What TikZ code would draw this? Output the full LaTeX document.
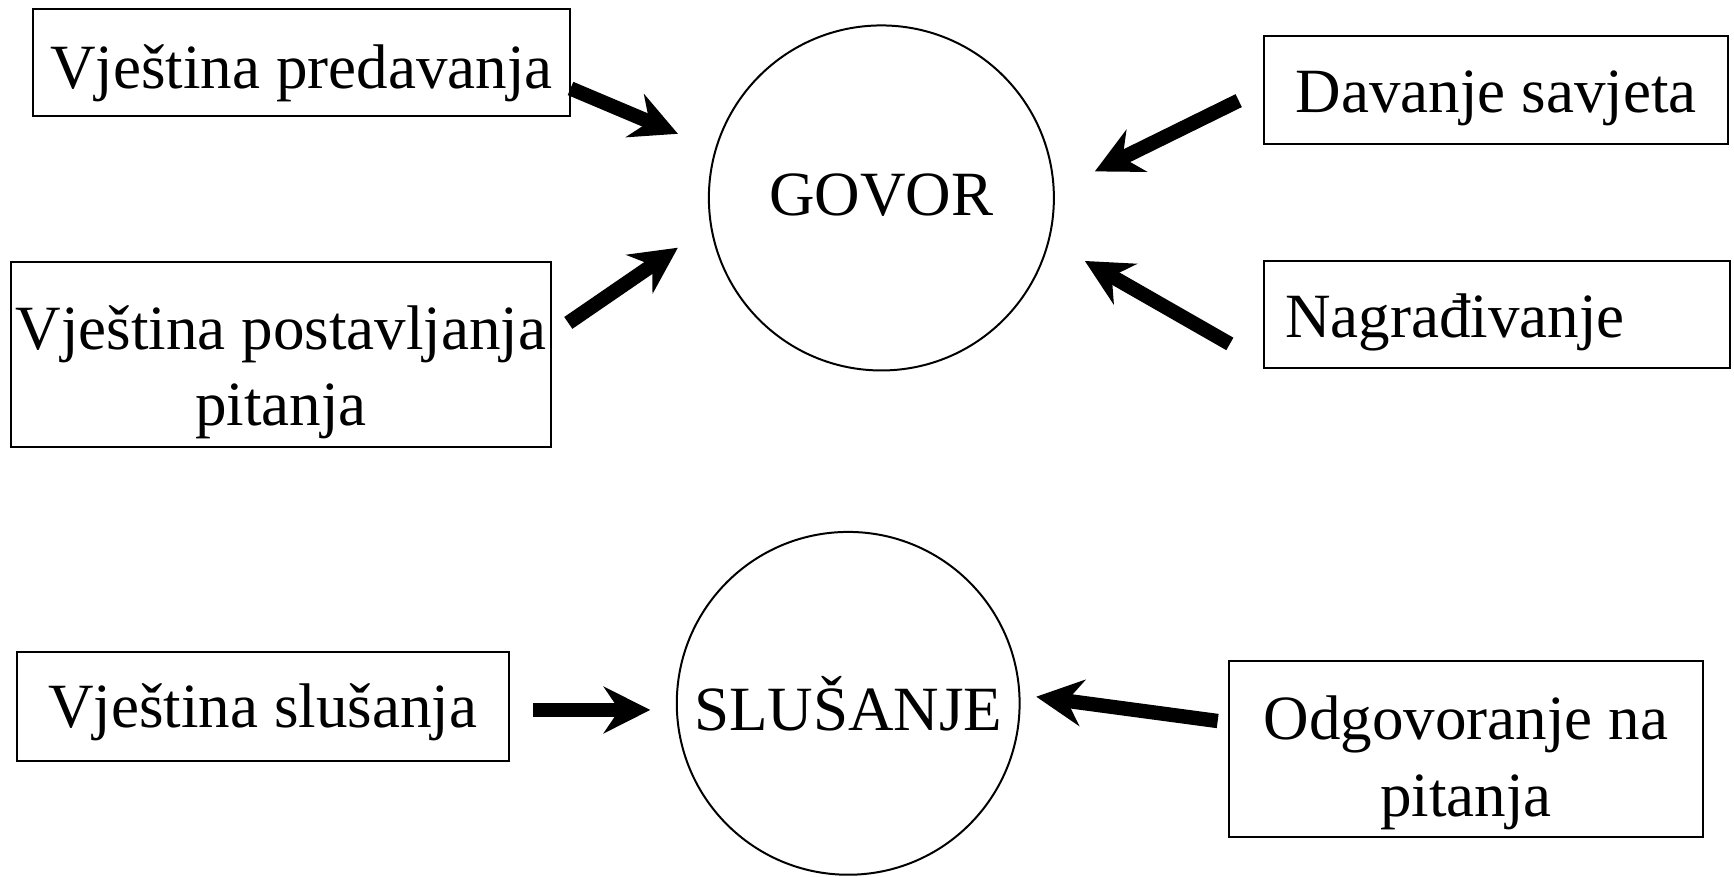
\documentclass[tikz,border=0pt]{standalone}
\usepackage{fontspec}
\setmainfont{Liberation Serif}
\usetikzlibrary{arrows.meta,calc}

\begin{document}
\begin{tikzpicture}[x=0.5pt,y=0.5pt,
  every node/.style={font=\fontsize{28.5}{34.5}\selectfont},
  box/.style={draw, line width=0.9pt, inner sep=0pt, align=center, text depth=0pt},
  krug/.style={draw, circle, line width=0.9pt, inner sep=0pt},
  strelica/.style={line width=6.5pt, -{Stealth[length=21pt,width=21pt,inset=7pt]}}]
\useasboundingbox (0,0) rectangle (1568,793);

\node[krug, minimum size=156pt, text height=16pt, text depth=0pt] (govor) at (797,614) {GOVOR};
\node[krug, minimum size=155pt] (slusanje) at (767,157) {SLUŠANJE};

\node[box, minimum width=242.5pt, minimum height=48.5pt, text height=23.5pt] (pred) at (272.5,736.5) {Vještina predavanja};
\node[box, minimum width=244pt, minimum height=83.5pt, text height=64.5pt] (post) at (254,472.5) {Vještina postavljanja\\pitanja};
\node[box, minimum width=210pt, minimum height=48.5pt, text height=20.5pt] (sav) at (1353,711.5) {Davanje savjeta};
\node[box, text width=191.5pt, inner xsep=9.5pt, minimum height=48.5pt, text height=20.5pt, align=left] (nagr) at (1353.5,508.5) {Nagrađivanje};
\node[box, minimum width=222.5pt, minimum height=49pt, text height=19pt] (slus) at (237.5,154) {Vještina slušanja};
\node[box, minimum width=214.5pt, minimum height=79.5pt, text height=60.5pt] (odg) at (1325.5,115.5) {Odgovoranje na\\pitanja};

\draw[strelica] ($(pred.east)+(0,-23.5)$) -- ($(govor)+(-184,58)$);
\draw[strelica] ($(post.east)+(15,28.5)$) -- ($(govor)+(-184,-45)$);
\draw[strelica] ($(sav.west)+(-22,-9.5)$) -- ($(govor)+(193,24)$);
\draw[strelica] ($(nagr.west)+(-30,-26.5)$) -- ($(govor)+(184,-57)$);
\draw[strelica] ($(slus.east)+(21,-3)$) -- ($(slusanje)+(-179,-6)$);
\draw[strelica] ($(odg.west)+(-9,25.5)$) -- ($(slusanje)+(170,6)$);
\end{tikzpicture}
\end{document}
